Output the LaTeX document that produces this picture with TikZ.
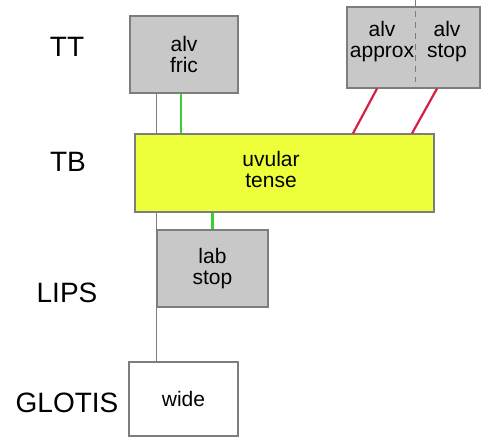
\documentclass[tikz,border=0pt]{standalone}
\usepackage{fontspec}
\setmainfont{Liberation Sans}
\usetikzlibrary{positioning}

\definecolor{gestgray}{RGB}{200,200,200}
\definecolor{edgegray}{RGB}{125,125,125}
\definecolor{tbyellow}{RGB}{236,255,58}
\definecolor{linkgreen}{RGB}{60,205,50}
\definecolor{linkred}{RGB}{215,30,70}

\begin{document}
\begin{tikzpicture}[
  x=1pt, y=-1pt,
  every node/.style={font=\fontsize{21}{21}\selectfont, inner sep=0pt, align=center},
  tier/.style={font=\fontsize{28}{28}\selectfont},
  gest/.style={draw=edgegray, line width=1.2pt, fill=gestgray},
  plain/.style={draw=edgegray, line width=1.2pt, fill=white},
  tbbox/.style={draw=edgegray, line width=1.2pt, fill=tbyellow},
  greenlink/.style={draw=linkgreen, line width=2.2pt},
  redlink/.style={draw=linkred, line width=2.2pt},
  spine/.style={draw=edgegray, line width=0.8pt},
  divider/.style={draw=edgegray, line width=1pt, dash pattern=on 6pt off 5pt}
]
  \useasboundingbox (0,0) rectangle (481,436);

  % tier names
  \node[tier] (TT) at (67,47) {TT};
  \node[tier] (TB) at (68,162) {TB};
  \node[tier] (LIPS) at (67,293) {LIPS};
  \node[tier] (GLOTIS) at (67,403) {GLOTIS};

  % gestures
  \node[gest, minimum width=108, minimum height=77] (fric) at (184,54.5) {alv\\fric};
  \node[gest, minimum width=111, minimum height=77] (lab) at (212.5,268.5) {lab\\stop};
  \node[plain, minimum width=109, minimum height=74] (wide) at (183.5,399) {wide};

  % spine behind the TB box
  \draw[spine] (fric.south -| lab.west) -- (lab.north west);
  \draw[spine] (lab.south west) -- (wide.north -| lab.west);

  \node[tbbox, minimum width=299, minimum height=78] (tb) at (284.5,173) {};
  \node (tbtext) at (271,169) {uvular\\tense};

  \node[gest, minimum width=133, minimum height=81] (alvbox) at (413.5,47.5) {};
  \node (approx) at (382,42) {alv\\approx};
  \node (stop) at (447,42) {alv\\stop};
  \coordinate (divtop) at (415,0);
  \coordinate (divbot) at (415,82);
  \draw[divider] (divtop) -- (divbot);

  % links
  \draw[greenlink] ([xshift=-3pt]fric.south) -- ([xshift=-3pt]fric.south |- tb.north);
  \draw[greenlink] (tb.south -| lab.north) -- (lab.north);
  \draw[redlink] ([xshift=-36.5pt]alvbox.south) -- ([xshift=68.5pt]tb.north);
  \draw[redlink] ([xshift=23.5pt]alvbox.south) -- ([xshift=127.5pt]tb.north);
\end{tikzpicture}
\end{document}
